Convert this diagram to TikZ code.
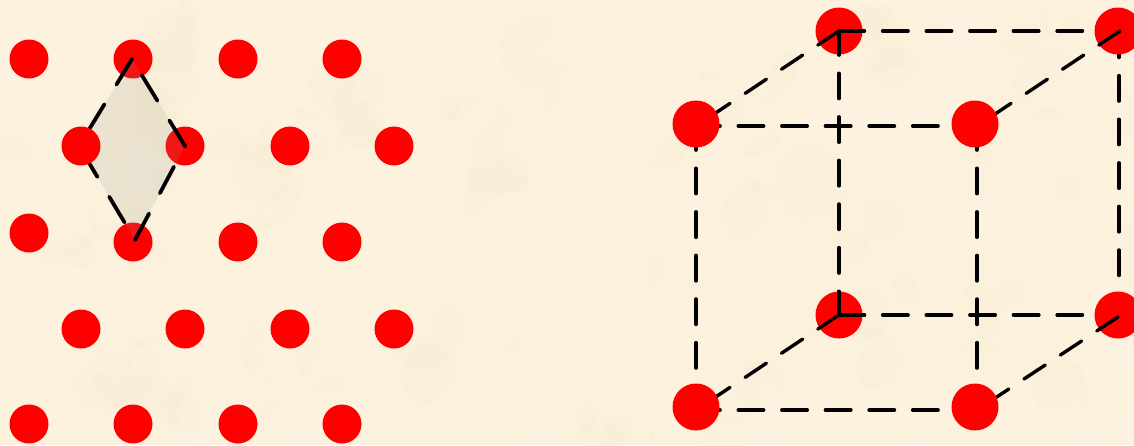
\documentclass[tikz,border=0pt]{standalone}
\definecolor{paper}{RGB}{252,242,222}
\definecolor{paperhi}{RGB}{255,247,232}
\definecolor{paperlo}{RGB}{248,234,208}
\definecolor{cellfill}{RGB}{150,152,137}
\begin{document}
\begin{tikzpicture}[x=1pt,y=-1pt,
  atom/.style={circle,fill=red,draw=none,minimum size=39pt,inner sep=0pt},
  bigatom/.style={circle,fill=red,draw=none,minimum size=47pt,inner sep=0pt},
  celledge/.style={black,line width=3.8pt,line cap=round,dash pattern=on 30pt off 23pt},
  cubeedge/.style={black,line width=3.4pt,line cap=round,dash pattern=on 25.5pt off 18.1pt,dash phase=1.4pt}]
\useasboundingbox (0,0) rectangle (1134,445);
\fill[paper] (0,0) rectangle (1134,445);
% mottled paper
\pgfmathsetseed{7}
\foreach \i in {1,...,160}{
  \pgfmathsetmacro{\px}{rnd*1134}
  \pgfmathsetmacro{\py}{rnd*445}
  \pgfmathsetmacro{\pr}{10+rnd*30}
  \fill[paperhi,opacity=.11] (\px,\py) circle[radius=\pr];
  \pgfmathsetmacro{\qx}{rnd*1134}
  \pgfmathsetmacro{\qy}{rnd*445}
  \pgfmathsetmacro{\qr}{10+rnd*30}
  \fill[paperlo,opacity=.11] (\qx,\qy) circle[radius=\qr];
}
% left lattice
\node[atom] (a11) at (29,59) {};
\node[atom] (a12) at (133,59) {};
\node[atom] (a13) at (238,59) {};
\node[atom] (a14) at (342,59) {};
\node[atom] (a22) at (185,146) {};
\node[atom] (a23) at (290,146) {};
\node[atom] (a24) at (394,146) {};
\node[atom] (a31) at (29,233) {};
\node[atom] (a32) at (133,242) {};
\node[atom] (a33) at (238,242) {};
\node[atom] (a34) at (342,242) {};
\node[atom] (a41) at (81,329) {};
\node[atom] (a42) at (185,329) {};
\node[atom] (a43) at (290,329) {};
\node[atom] (a44) at (394,329) {};
\node[atom] (a51) at (29,424) {};
\node[atom] (a52) at (133,424) {};
\node[atom] (a53) at (238,424) {};
\node[atom] (a54) at (342,424) {};
\coordinate (dT) at (132,59);
\coordinate (dR) at (185,146);
\coordinate (dB) at (135,240);
\coordinate (dL) at (79,146);
\fill[cellfill,fill opacity=.16] (dT) -- (dR) -- (dB) -- (dL) -- cycle;
\draw[celledge] (dR) -- (dT);
\draw[celledge] (dT) -- (dL);
\draw[celledge,dash phase=47pt] (dL) -- (dB);
\draw[celledge] (dB) -- (dR);
\node[atom] (a21) at (81,146) {};
% cube coordinates
\coordinate (cbtl) at (839,31);
\coordinate (cbtr) at (1119,31);
\coordinate (cbbl) at (839,315);
\coordinate (cbbr) at (1119,315);
\coordinate (dbtr) at (1120,31);
\coordinate (dbbr) at (1118,317);
\coordinate (cftl) at (696,126);
\coordinate (cftr) at (977,126);
\coordinate (cfbl) at (696,410);
\coordinate (cfbr) at (977,410);
% edges hidden by the rear right atoms
\draw[cubeedge,dash phase=0pt] (cbtl) -- (cbtr);
\draw[cubeedge,dash phase=0pt] (cbbl) -- (cbbr);
\draw[cubeedge,dash phase=42.6pt] (cbtr) -- (cbbr);
% rear atoms
\node[bigatom] (btl) at (839,31) {};
\node[bigatom] (btr) at (1118,31) {};
\node[bigatom] (bbl) at (839,315) {};
\node[bigatom] (bbr) at (1118,315) {};
% remaining edges
\draw[cubeedge] (cbtl) -- ++(27,0);
\draw[cubeedge,dash phase=0pt] (cbbl) -- ++(25.5,0);
\draw[cubeedge] (cftl) -- (cftr);
\draw[cubeedge] (cfbl) -- (cfbr);
\draw[cubeedge] (cftl) -- (cfbl);
\draw[cubeedge] (cftr) -- (cfbr);
\draw[cubeedge] (cbtl) -- (cbbl);
\draw[cubeedge,dash phase=0pt] (cbtl) -- (cftl);
\draw[cubeedge,dash phase=0pt] (dbtr) -- (cftr);
\draw[cubeedge,dash phase=0pt] (cbbl) -- (cfbl);
\draw[cubeedge,dash phase=0pt] (dbbr) -- (cfbr);
% cube: front atoms
\node[bigatom] (ftl) at (696,124) {};
\node[bigatom] (ftr) at (975,124) {};
\node[bigatom] (fbl) at (696,407) {};
\node[bigatom] (fbr) at (975,407) {};
\end{tikzpicture}
\end{document}
